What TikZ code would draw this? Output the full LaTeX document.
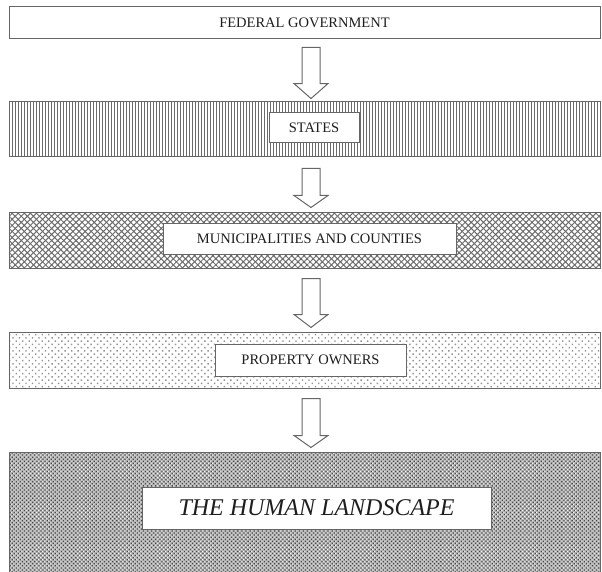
\documentclass[tikz,border=0pt]{standalone}
\usepackage{fontspec}
\setmainfont{Liberation Serif}
\usetikzlibrary{calc,patterns.meta}

\definecolor{edge}{HTML}{666666}
\definecolor{ink}{HTML}{1E1E1E}
\definecolor{hatch}{HTML}{6A6A6A}

\tikzset{
  frame/.style={draw=edge, line width=1pt, inner sep=0pt, anchor=center},
  band/.style={frame, text=ink, font=\fontsize{14.5}{16}\selectfont},
  labelbox/.style={frame, fill=white, text=ink, font=\fontsize{14.5}{16}\selectfont},
  vlines/.style={pattern={Lines[angle=90, distance=3pt, line width=0.9pt]}, pattern color=hatch},
  diamonds/.style={preaction={pattern={Lines[angle=45, distance=4.3pt, line width=1.0pt]}, pattern color=hatch},
                   pattern={Lines[angle=-45, distance=4.3pt, line width=1.0pt]}, pattern color=hatch},
  dotted band/.style={pattern={Dots[angle=45, distance=4.6pt, radius=1.0pt]}, pattern color=gray!85},
  texture/.style={preaction={fill=gray!55},
                  preaction={pattern={Dots[angle=45, distance=2.9pt, radius=0.9pt]}, pattern color=black!72},
                  pattern={Dots[angle=45, distance=2.9pt, radius=0.65pt, xshift=1.45pt]}, pattern color=white!92!gray},
  arrowline/.style={draw=edge, line width=1pt, fill=white, line join=miter},
}

% hollow down arrow between two stacked boxes:
% #1 upper node, #2 lower node, #3 gap under #1, #4 gap above #2, #5 head length
\newcommand\hollowarrow[5]{%
  \draw[arrowline] let \p1=(#1.south), \p2=(#2.north) in
    (302pt,\y1-#3) -- (320pt,\y1-#3) -- (320pt,\y2+#4+#5) -- (328pt,\y2+#4+#5)
    -- (311pt,\y2+#4) -- (294pt,\y2+#4+#5) -- (302pt,\y2+#4+#5) -- cycle;}

\begin{document}
\begin{tikzpicture}[x=1pt, y=-1pt]
  \useasboundingbox (0,0) rectangle (602,572);

  % levels of government, top to bottom
  \node[band, minimum width=591, minimum height=32] (fed) at (304.5,23) {FEDERAL GOVERNMENT};
  \node[band, vlines, minimum width=591, minimum height=55] (states) at (304.5,129.5) {};
  \node[band, diamonds, minimum width=591, minimum height=56] (mun) at (304.5,240) {};
  \node[band, dotted band, minimum width=591, minimum height=56] (prop) at (304.5,360) {};
  \node[band, texture, minimum width=591, minimum height=123] (land) at (304.5,513.5) {};

  % labels sitting on the patterned bands
  \node[labelbox, minimum width=90, minimum height=30] (statesL) at (314,128) {STATES};
  \node[labelbox, minimum width=293, minimum height=31] (munL) at (309.5,238.5) {MUNICIPALITIES AND COUNTIES};
  \node[labelbox, minimum width=191, minimum height=32] (propL) at (310.5,360) {PROPERTY OWNERS};
  \node[labelbox, minimum width=349, minimum height=42, font=\fontsize{24}{26}\selectfont\itshape] (landL) at (316.5,508) {THE HUMAN LANDSCAPE};

  % downward flow
  \hollowarrow{fed}{states}{8pt}{3pt}{15pt}
  \hollowarrow{states}{mun}{11pt}{4pt}{12pt}
  \hollowarrow{mun}{prop}{10pt}{4pt}{13pt}
  \hollowarrow{prop}{land}{10pt}{4pt}{12pt}
\end{tikzpicture}
\end{document}
